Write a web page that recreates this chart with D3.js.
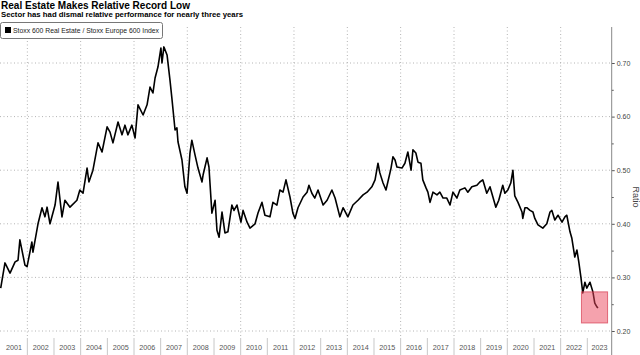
<!DOCTYPE html>
<html><head><meta charset="utf-8">
<script src="https://cdn.jsdelivr.net/npm/d3@7"></script>
<style>html,body{margin:0;padding:0;background:#fff;}svg{display:block;}</style>
</head><body>
<svg id="chart" width="640" height="355"></svg>
<script>
// ---- data (decimal year, ratio) ----
const years = [2001.00,2001.16,2001.35,2001.54,2001.65,2001.72,2001.91,2001.99,2002.17,2002.21,2002.40,2002.55,2002.66,2002.74,2002.85,
2003.04,2003.15,2003.30,2003.41,2003.60,2003.86,2003.97,2004.09,2004.24,2004.31,2004.46,2004.65,2004.80,2004.99,2005.10,2005.21,2005.40,
2005.55,2005.66,2005.77,2005.92,2006.04,2006.15,2006.34,2006.49,2006.60,2006.71,2006.79,2006.90,2007.01,2007.05,2007.12,2007.24,2007.35,
2007.42,2007.54,2007.61,2007.65,2007.80,2007.91,2007.99,2008.10,2008.17,2008.29,2008.40,2008.55,2008.59,2008.74,2008.81,2008.92,2009.04,
2009.11,2009.19,2009.30,2009.41,2009.52,2009.67,2009.75,2009.86,2010.01,2010.09,2010.24,2010.35,2010.54,2010.65,2010.80,2010.91,2011.10,
2011.21,2011.36,2011.47,2011.59,2011.70,2011.85,2011.96,2012.04,2012.15,2012.34,2012.49,2012.56,2012.67,2012.78,2012.90,2013.09,2013.24,
2013.42,2013.54,2013.72,2013.84,2014.02,2014.21,2014.40,2014.59,2014.74,2014.92,2015.04,2015.15,2015.22,2015.34,2015.45,2015.52,2015.64,
2015.71,2015.79,2015.86,2016.05,2016.16,2016.27,2016.39,2016.46,2016.57,2016.65,2016.76,2016.83,2016.95,2017.02,2017.10,2017.21,2017.36,
2017.47,2017.59,2017.73,2017.85,2017.96,2018.11,2018.22,2018.41,2018.52,2018.67,2018.86,2018.97,2019.08,2019.23,2019.35,2019.46,2019.57,
2019.68,2019.83,2019.91,2020.02,2020.13,2020.21,2020.28,2020.40,2020.55,2020.58,2020.66,2020.73,2020.85,2020.96,2021.03,2021.15,2021.33,
2021.48,2021.60,2021.67,2021.78,2021.90,2022.05,2022.16,2022.23,2022.35,2022.42,2022.53,2022.61,2022.68,2022.76,2022.83,2022.91,2022.98,
2023.10,2023.21,2023.28,2023.36,2023.40];
const ratio = [0.280,0.327,0.308,0.329,0.332,0.370,0.323,0.320,0.366,0.347,0.400,0.430,0.413,0.431,0.400,
0.435,0.478,0.413,0.444,0.431,0.444,0.463,0.457,0.504,0.478,0.500,0.551,0.534,0.581,0.571,0.551,0.590,
0.566,0.584,0.566,0.584,0.560,0.622,0.603,0.622,0.655,0.644,0.672,0.693,0.728,0.700,0.730,0.715,0.668,
0.635,0.575,0.579,0.553,0.519,0.469,0.457,0.532,0.556,0.528,0.504,0.478,0.491,0.523,0.506,0.420,0.444,
0.388,0.375,0.422,0.383,0.385,0.435,0.425,0.435,0.403,0.425,0.403,0.392,0.400,0.420,0.440,0.416,0.413,
0.440,0.435,0.463,0.459,0.482,0.450,0.420,0.410,0.430,0.450,0.459,0.472,0.457,0.448,0.463,0.435,0.444,
0.463,0.448,0.413,0.430,0.413,0.435,0.444,0.454,0.459,0.469,0.482,0.513,0.495,0.476,0.463,0.478,0.504,
0.525,0.519,0.506,0.504,0.513,0.534,0.500,0.538,0.532,0.515,0.513,0.482,0.467,0.459,0.440,0.459,0.454,
0.459,0.448,0.448,0.435,0.459,0.448,0.463,0.467,0.459,0.469,0.472,0.478,0.482,0.457,0.469,0.450,0.431,
0.444,0.472,0.457,0.463,0.476,0.500,0.452,0.440,0.422,0.410,0.430,0.430,0.425,0.422,0.410,0.398,0.392,
0.400,0.422,0.425,0.407,0.416,0.403,0.413,0.416,0.385,0.373,0.338,0.351,0.329,0.300,0.271,0.291,0.280,
0.291,0.273,0.252,0.245,0.243];
const yearLabels = d3.range(2001, 2024).map(String);
const yTicks = [0.20,0.30,0.40,0.50,0.60,0.70];
const yMinorTicks = [0.25,0.35,0.45,0.55,0.65];
const highlightX = [2022.78, 2023.76];
const highlightY = [0.215, 0.273];
const title = "Real Estate Makes Relative Record Low";
const subtitle = "Sector has had dismal relative performance for nearly three years";
const legendLabel = "Stoxx 600 Real Estate / Stoxx Europe 600 Index";
const axisTitle = "Ratio";

// ---- helpers ----
function dec2date(y){
  const yr = Math.floor(y);
  const start = new Date(yr,0,1), end = new Date(yr+1,0,1);
  return new Date(start.getTime() + (y-yr)*(end-start));
}
const data = years.map((y,i)=>({date:dec2date(y), v:ratio[i]}));

const svg = d3.select("#chart");
const font = "'Liberation Sans', Arial, sans-serif";
const plotLeft = 0.7, plotRight = 611.7, plotTop = 27, plotBottom = 336;

const x = d3.scaleTime().domain([new Date(2001,0,1), new Date(2023,11,1)]).range([plotLeft, plotRight]);
const y = d3.scaleLinear().domain([0.20, 0.70]).range([331, 63]);

// vertical dotted gridlines (every two years)
const gridYears = d3.range(2002, 2023, 2).map(yy=>new Date(yy,0,1));
svg.append("g").selectAll("line").data(gridYears).join("line")
  .attr("x1",d=>x(d)).attr("x2",d=>x(d)).attr("y1",plotTop).attr("y2",plotBottom)
  .attr("stroke","#b4b4b4").attr("stroke-width",1).attr("stroke-dasharray","1,2.5");

// horizontal dotted gridlines
svg.append("g").selectAll("line").data(yTicks).join("line")
  .attr("x1",0).attr("x2",plotRight).attr("y1",d=>y(d)).attr("y2",d=>y(d))
  .attr("stroke","#b4b4b4").attr("stroke-width",1).attr("stroke-dasharray","1,2.5");

// series line
const line = d3.line().x(d=>x(d.date)).y(d=>y(d.v)).curve(d3.curveLinear);
svg.append("path").datum(data).attr("d",line)
  .attr("fill","none").attr("stroke","#000").attr("stroke-width",1.6).attr("stroke-linejoin","round");

// highlight box
svg.append("rect")
  .attr("x", x(dec2date(highlightX[0]))).attr("width", x(dec2date(highlightX[1]))-x(dec2date(highlightX[0])))
  .attr("y", y(highlightY[1])).attr("height", y(highlightY[0])-y(highlightY[1]))
  .attr("fill","rgba(236,70,92,0.5)").attr("stroke","rgba(215,60,80,0.7)").attr("stroke-width",1);

// right axis
const yAxis = d3.axisRight(y).tickValues(yTicks).tickFormat(d3.format(".2f")).tickSize(3).tickPadding(2);
const gy = svg.append("g").attr("transform",`translate(${plotRight},0)`).call(yAxis);
gy.select(".domain").remove();
gy.selectAll("line").attr("stroke","#555");
gy.selectAll("text").attr("font-family",font).attr("font-size","7px").attr("fill","#444");
const gym = svg.append("g").attr("transform",`translate(${plotRight},0)`)
  .call(d3.axisRight(y).tickValues(yMinorTicks).tickFormat("").tickSize(2));
gym.select(".domain").remove();
gym.selectAll("line").attr("stroke","#555");
svg.append("line").attr("x1",plotRight).attr("x2",plotRight).attr("y1",plotTop).attr("y2",355)
  .attr("stroke","#888").attr("stroke-width",1);
svg.append("text").attr("transform",`translate(633,${(y(0.45))}) rotate(90)`)
  .attr("text-anchor","middle").attr("font-family",font).attr("font-size","9px").attr("fill","#444").text(axisTitle);

// bottom year band
const yearStarts = yearLabels.map(s=>new Date(+s,0,1));
svg.append("g").selectAll("line").data(yearStarts.slice(1)).join("line")
  .attr("x1",d=>x(d)).attr("x2",d=>x(d)).attr("y1",338).attr("y2",355)
  .attr("stroke","#c8c8c8").attr("stroke-width",1);
svg.append("g").selectAll("text").data(yearLabels).join("text")
  .attr("x",d=>{const a=x(new Date(+d,0,1)), b=Math.min(x(new Date(+d+1,0,1)),plotRight); return (a+b)/2;})
  .attr("y",350).attr("text-anchor","middle").attr("font-family",font).attr("font-size","7.2px").attr("fill","#555")
  .text(d=>d);

// titles
svg.append("text").attr("x",1).attr("y",9).attr("font-family",font).attr("font-weight","bold")
  .attr("font-size","10.5px").attr("fill","#000").attr("textLength",189).attr("lengthAdjust","spacingAndGlyphs").text(title);
svg.append("text").attr("x",1).attr("y",17).attr("font-family",font).attr("font-weight","bold")
  .attr("font-size","7px").attr("fill","#000").attr("textLength",242).attr("lengthAdjust","spacingAndGlyphs").text(subtitle);

// legend
svg.append("rect").attr("x",0.5).attr("y",22.5).attr("width",162).attr("height",16).attr("rx",2)
  .attr("fill","#fff").attr("stroke","#777").attr("stroke-width",1);
svg.append("rect").attr("x",5).attr("y",27).attr("width",6).attr("height",6).attr("fill","#000");
svg.append("text").attr("x",13).attr("y",33).attr("font-family",font).attr("font-size","7px").attr("fill","#222")
  .attr("textLength",146).attr("lengthAdjust","spacingAndGlyphs").text(legendLabel);
</script>
</body></html>
